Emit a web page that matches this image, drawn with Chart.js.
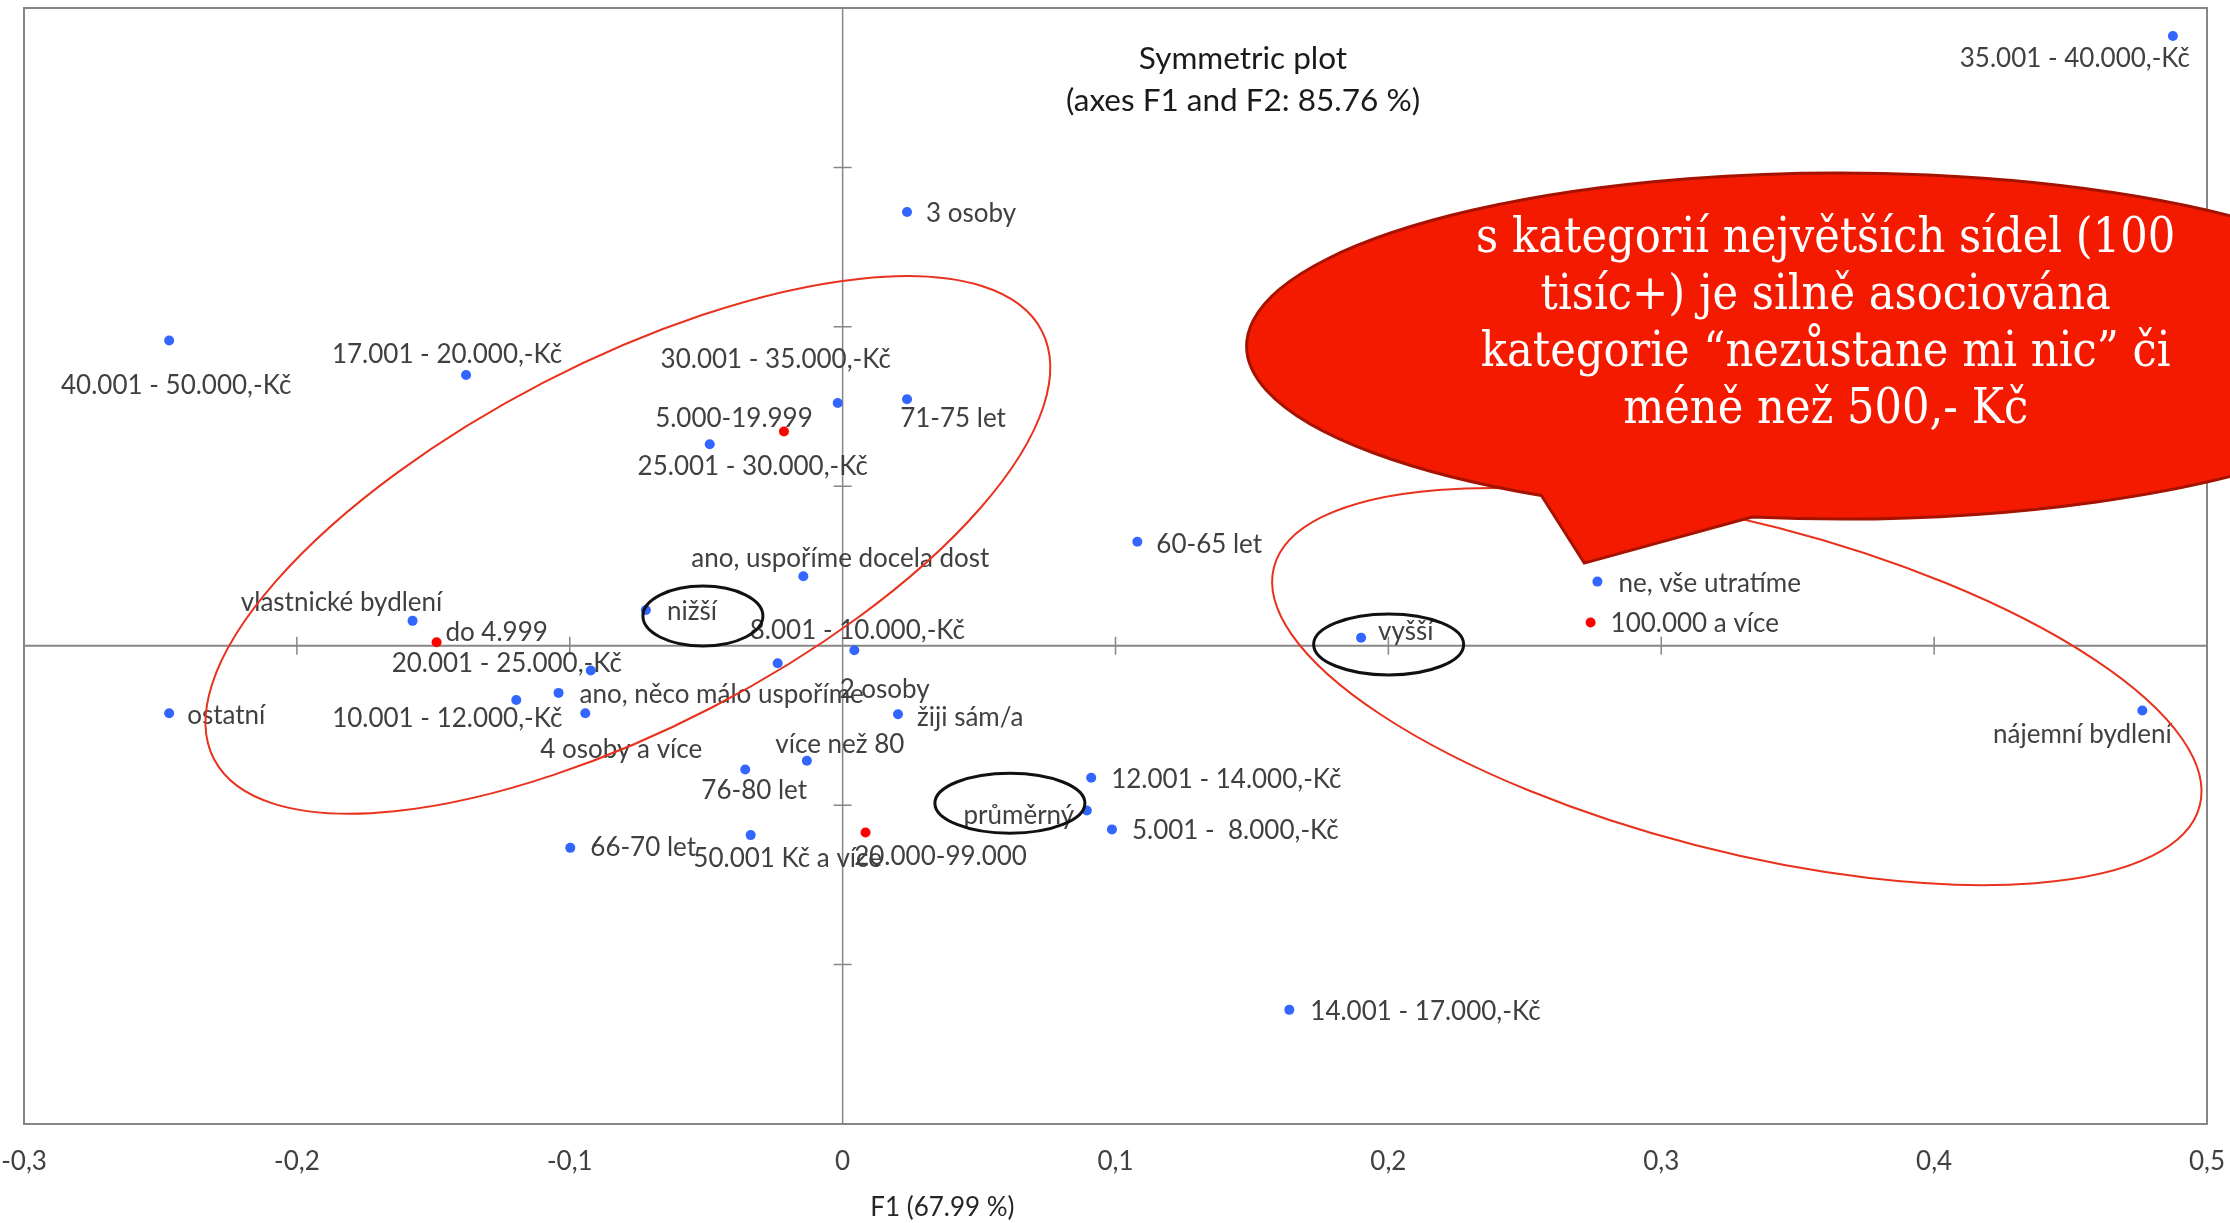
<!DOCTYPE html>
<html>
<head>
<meta charset="utf-8">
<title>Symmetric plot</title>
<script src="https://cdn.jsdelivr.net/npm/chart.js@4.4.1/dist/chart.umd.min.js"></script>
<style>
  html, body { margin: 0; padding: 0; background: #fff; }
  #wrap { width: 2230px; height: 1223px; position: relative; }
</style>
</head>
<body>
<div id="wrap"><canvas id="caChart"></canvas></div>
<script>
// aktivní kategorie (modré body)
const activeLabels = [
  '40.001 - 50.000,-Kč', '17.001 - 20.000,-Kč', '35.001 - 40.000,-Kč', '3 osoby',
  '30.001 - 35.000,-Kč', '71-75 let', '25.001 - 30.000,-Kč', 'ano, uspoříme docela dost',
  'nižší', 'vlastnické bydlení', '20.001 - 25.000,-Kč', 'ano, něco málo uspoříme',
  '10.001 - 12.000,-Kč', '4 osoby a více', 'ostatní', '8.001 - 10.000,-Kč',
  '2 osoby', 'žiji sám/a', 'více než 80', '76-80 let', '50.001 Kč a více', '66-70 let',
  'průměrný', '12.001 - 14.000,-Kč', '5.001 -  8.000,-Kč', '14.001 - 17.000,-Kč',
  '60-65 let', 'vyšší', 'ne, vše utratíme', 'nájemní bydlení'
];
const activeF1 = [
  -0.2468, -0.1380, 0.4875, 0.0236, -0.0018, 0.0236, -0.0487, -0.0144,
  -0.0721, -0.1576, -0.0923, -0.1041, -0.1196, -0.0943, -0.2468, 0.0043,
  -0.0238, 0.0203, -0.0131, -0.0357, -0.0337, -0.0998, 0.0895, 0.0911,
  0.0987, 0.1637, 0.1080, 0.1900, 0.2766, 0.4763
];
const activeF2 = [
  0.0957, 0.0849, 0.1912, 0.1360, 0.0761, 0.0773, 0.0632, 0.0218,
  0.0112, 0.0078, -0.0078, -0.0148, -0.0170, -0.0212, -0.0212, -0.0014,
  -0.0055, -0.0215, -0.0361, -0.0388, -0.0594, -0.0634, -0.0517, -0.0414,
  -0.0576, -0.1142, 0.0326, 0.0025, 0.0201, -0.0203
];

// doplňkové kategorie - velikost sídla (červené body)
const suppLabels = ['do 4.999', '5.000-19.999', '20.000-99.000', '100.000 a více'];
const suppF1 = [-0.1488, -0.0215, 0.0084, 0.2741];
const suppF2 = [0.0011, 0.0672, -0.0586, 0.0073];

const xTickValues = [-0.3, -0.2, -0.1, 0, 0.1, 0.2, 0.3, 0.4, 0.5];
const xTickLabels = ['-0,3', '-0,2', '-0,1', '0', '0,1', '0,2', '0,3', '0,4', '0,5'];
const yTickValues = [-0.15, -0.1, -0.05, 0, 0.05, 0.1, 0.15, 0.2];

const titleLines = ['Symmetric plot', '(axes F1 and F2: 85.76 %)'];
const xTitle = 'F1 (67.99 %)';
const calloutLines = [
  's kategorií největších sídel (100',
  'tisíc+) je silně asociována',
  'kategorie \u201Cnezůstane mi nic\u201D či',
  'méně než 500,- Kč'
];

// umístění popisků vůči bodu [dx, dy, zarovnání]  ('l' = text začíná u dx)
const labelOffset = {
  '40.001 - 50.000,-Kč': [7, 45],
  '17.001 - 20.000,-Kč': [-19, -20],
  '35.001 - 40.000,-Kč': [-98, 23],
  '3 osoby': [19, 2, 'l'],
  '30.001 - 35.000,-Kč': [-62, -43],
  '71-75 let': [46, 19],
  '25.001 - 30.000,-Kč': [43, 22],
  'ano, uspoříme docela dost': [37, -18],
  'nižší': [21, 2, 'l'],
  'vlastnické bydlení': [-71, -18],
  '20.001 - 25.000,-Kč': [-84, -7],
  'ano, něco málo uspoříme': [21, 2, 'l'],
  '10.001 - 12.000,-Kč': [-69, 19],
  '4 osoby a více': [36, 36],
  'ostatní': [18, 2, 'l'],
  '8.001 - 10.000,-Kč': [3, -20],
  '2 osoby': [107, 26],
  'žiji sám/a': [19, 3, 'l'],
  'více než 80': [33, -16],
  '76-80 let': [9, 21],
  '50.001 Kč a více': [37, 23],
  '66-70 let': [20, 0, 'l'],
  'průměrný': [-68, 5],
  '12.001 - 14.000,-Kč': [20, 2, 'l'],
  '5.001 -  8.000,-Kč': [20, 1, 'l'],
  '14.001 - 17.000,-Kč': [21, 2, 'l'],
  '60-65 let': [19, 3, 'l'],
  'vyšší': [17, -6, 'l'],
  'ne, vše utratíme': [21, 2, 'l'],
  'nájemní bydlení': [-60, 24],
  'do 4.999': [60, -10],
  '5.000-19.999': [-50, -13],
  '20.000-99.000': [75, 24],
  '100.000 a více': [20, 1, 'l']
};

// ručně dokreslené elipsy (střed v souřadnicích F1/F2, poloosy v px)
const marks = [
  { f1: -0.0787, f2: 0.0316, rx: 466, ry: 183, rot: -27.35, color: '#e8321e', width: 2 },
  { f1: 0.3277, f2: -0.0128, rx: 478, ry: 164, rot: 14.45, color: '#e8321e', width: 2 },
  { f1: -0.0512, f2: 0.0093, rx: 60, ry: 30, rot: 0, color: '#111111', width: 3 },
  { f1: 0.2001, f2: 0.0004, rx: 75, ry: 30.5, rot: 0, color: '#111111', width: 3 },
  { f1: 0.0613, f2: -0.0494, rx: 75, ry: 30, rot: 0, color: '#111111', width: 3 }
];
const callout = { f1: 0.3654, f2: 0.0940, rx: 593, ry: 173, tailFrom: 98.5, tailTo: 120.2, tip: [0.2718, 0.0259] };

const axisColor = '#868686';
const labelFont = '26px Lato';

const backdrop = {
  id: 'backdrop',
  beforeDatasetsDraw(chart) {
    const { ctx, chartArea: a, scales: { x, y } } = chart;
    const x0 = x.getPixelForValue(0), y0 = y.getPixelForValue(0);
    ctx.save();
    ctx.strokeStyle = axisColor;
    ctx.lineWidth = 2;
    ctx.strokeRect(a.left, a.top, a.right - a.left, a.bottom - a.top);
    ctx.beginPath();
    ctx.moveTo(a.left, y0); ctx.lineTo(a.right, y0);
    ctx.stroke();
    ctx.lineWidth = 1.5;
    ctx.beginPath();
    ctx.moveTo(x0, a.top); ctx.lineTo(x0, a.bottom);
    xTickValues.forEach(v => {
      if (v === 0 || v === x.min || v === x.max) return;
      const px = x.getPixelForValue(v);
      ctx.moveTo(px, y0 - 9); ctx.lineTo(px, y0 + 9);
    });
    yTickValues.forEach(v => {
      if (v === 0 || v === y.min || v === y.max) return;
      const py = y.getPixelForValue(v);
      ctx.moveTo(x0 - 9, py); ctx.lineTo(x0 + 9, py);
    });
    ctx.stroke();
    ctx.restore();
  }
};

const overlay = {
  id: 'overlay',
  afterDatasetsDraw(chart) {
    const { ctx, chartArea: a, scales: { x, y } } = chart;
    ctx.save();

    // popisky bodů
    ctx.font = labelFont;
    ctx.fillStyle = '#404040';
    ctx.textBaseline = 'middle';
    chart.data.datasets.forEach((ds, di) => {
      chart.getDatasetMeta(di).data.forEach((pt, i) => {
        const name = ds.names[i];
        const o = labelOffset[name] || [14, 0, 'l'];
        ctx.textAlign = o[2] === 'l' ? 'left' : 'center';
        ctx.fillText(name, pt.x + o[0], pt.y + o[1]);
      });
    });

    // nadpis a popis osy
    ctx.fillStyle = '#1a1a1a';
    ctx.font = '31.5px Lato';
    ctx.textAlign = 'center';
    const tx = a.left + 0.5584 * (a.right - a.left);
    ctx.fillText(titleLines[0], tx, a.top + 51);
    ctx.fillText(titleLines[1], tx, a.top + 93);
    ctx.font = labelFont;
    ctx.fillStyle = '#262626';
    ctx.fillText(xTitle, a.left + 0.4207 * (a.right - a.left), a.bottom + 84);

    // elipsy
    marks.forEach(m => {
      ctx.beginPath();
      ctx.ellipse(x.getPixelForValue(m.f1), y.getPixelForValue(m.f2), m.rx, m.ry, m.rot * Math.PI / 180, 0, 2 * Math.PI);
      ctx.strokeStyle = m.color;
      ctx.lineWidth = m.width;
      ctx.stroke();
    });

    // bublina s komentářem
    const cx = x.getPixelForValue(callout.f1), cy = y.getPixelForValue(callout.f2);
    ctx.beginPath();
    ctx.ellipse(cx, cy, callout.rx, callout.ry, 0, callout.tailTo * Math.PI / 180, (callout.tailFrom + 360) * Math.PI / 180);
    ctx.lineTo(x.getPixelForValue(callout.tip[0]), y.getPixelForValue(callout.tip[1]));
    ctx.closePath();
    ctx.fillStyle = '#f41a00';
    ctx.fill();
    ctx.strokeStyle = '#a51300';
    ctx.lineWidth = 3;
    ctx.stroke();

    ctx.fillStyle = '#ffffff';
    const fam = '"DejaVu Serif Condensed", "DejaVu Serif", serif';
    ctx.font = '40px ' + fam;
    const fs = 40 * 700 / ctx.measureText(calloutLines[0]).width;
    ctx.font = fs.toFixed(1) + 'px ' + fam;
    ctx.textAlign = 'center';
    calloutLines.forEach((line, i) => {
      ctx.fillText(line, cx - 14, cy - 21 + (i - 1.5) * 57.3);
    });

    ctx.restore();
  }
};

function toPoints(xs, ys) {
  return xs.map((v, i) => ({ x: v, y: ys[i] }));
}

function initChart() {
  const ctx = document.getElementById('caChart').getContext('2d');
  new Chart(ctx, {
    type: 'scatter',
    data: {
      datasets: [
        { label: 'aktivní', names: activeLabels, data: toPoints(activeF1, activeF2),
          backgroundColor: '#3366ff', borderWidth: 0, pointRadius: 5 },
        { label: 'doplňkové', names: suppLabels, data: toPoints(suppF1, suppF2),
          backgroundColor: '#ff0000', borderWidth: 0, pointRadius: 5 }
      ]
    },
    options: {
      responsive: true,
      maintainAspectRatio: false,
      animation: false,
      layout: { padding: { left: 24, right: 23, top: 8, bottom: 46 } },
      scales: {
        x: {
          type: 'linear',
          min: -0.3,
          max: 0.5,
          afterBuildTicks: s => { s.ticks = xTickValues.map(v => ({ value: v })); },
          afterFit: s => { s.height = 53; s.paddingLeft = 0; s.paddingRight = 0; },
          ticks: {
            padding: 22,
            color: '#404040',
            font: { family: 'Lato', size: 26 },
            maxRotation: 0,
            callback: (v, i) => xTickLabels[i]
          },
          grid: { display: false, drawTicks: false },
          border: { display: false }
        },
        y: {
          type: 'linear',
          min: -0.15,
          max: 0.2,
          afterFit: s => { s.width = 0; s.paddingTop = 0; s.paddingBottom = 0; },
          ticks: { display: false },
          grid: { display: false, drawTicks: false },
          border: { display: false }
        }
      },
      plugins: {
        legend: { display: false },
        tooltip: { enabled: false }
      }
    },
    plugins: [backdrop, overlay]
  });
}

document.addEventListener('DOMContentLoaded', initChart);
</script>
</body>
</html>
